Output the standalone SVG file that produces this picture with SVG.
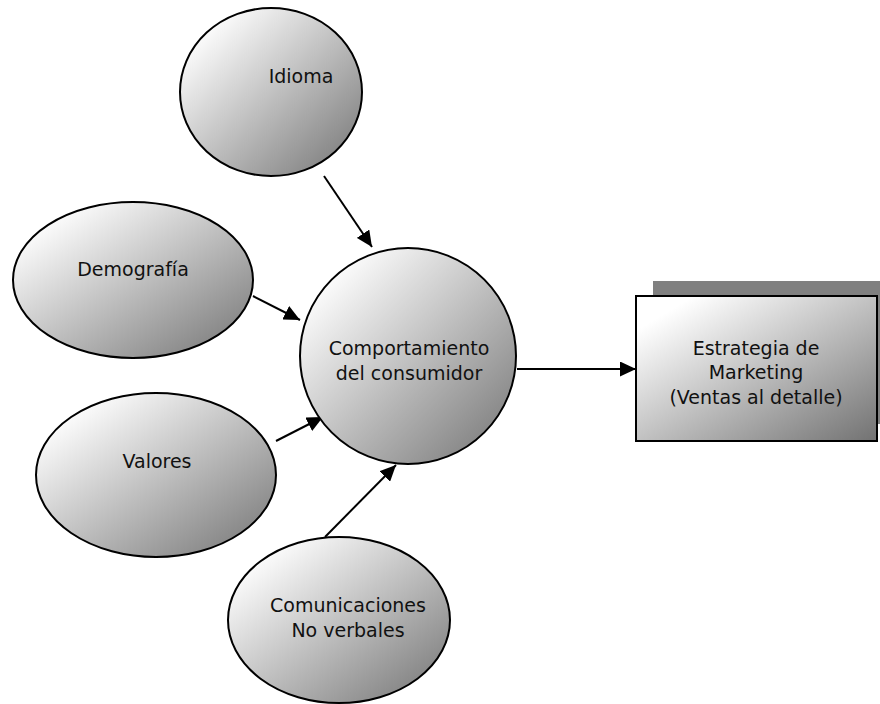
<svg xmlns="http://www.w3.org/2000/svg" width="880" height="704" viewBox="0 0 880 704">
  <defs>
    <linearGradient id="shade" x1="0" y1="0" x2="1" y2="1">
      <stop offset="0.12" stop-color="#ffffff"/>
      <stop offset="1" stop-color="#727272"/>
    </linearGradient>
    <marker id="arrow" markerUnits="userSpaceOnUse" markerWidth="17" markerHeight="15" refX="16" refY="7.5" orient="auto">
      <path d="M0,0 L16,7.5 L0,15 z" fill="#000"/>
    </marker>
    <style>
      .node { fill: url(#shade); stroke: #000; stroke-width: 2; }
      .shadow { fill: #808080; }
      .label { font-family: "DejaVu Sans", Verdana, sans-serif; font-size: 19px; fill: #111111; text-anchor: middle; }
      .link { stroke: #000; stroke-width: 2; fill: none; marker-end: url(#arrow); }
    </style>
  </defs>
  <rect width="880" height="704" fill="#ffffff"/>

  <g id="connectors">
    <line class="link" x1="324" y1="176" x2="372" y2="247"/>
    <line class="link" x1="253" y1="296" x2="300" y2="320"/>
    <line class="link" x1="276" y1="441" x2="323" y2="417"/>
    <line class="link" x1="325" y1="537" x2="396" y2="465"/>
    <line class="link" x1="517" y1="369" x2="636" y2="369"/>
  </g>

  <g id="idioma">
    <ellipse class="node" cx="271" cy="92" rx="91" ry="84"/>
    <text class="label" x="301" y="83">Idioma</text>
  </g>

  <g id="demografia">
    <ellipse class="node" cx="133" cy="280" rx="120" ry="78"/>
    <text class="label" x="133" y="276">Demografía</text>
  </g>

  <g id="valores">
    <ellipse class="node" cx="156" cy="475" rx="120" ry="82"/>
    <text class="label" x="157" y="468">Valores</text>
  </g>

  <g id="comunicaciones">
    <ellipse class="node" cx="339" cy="620" rx="111" ry="83"/>
    <text class="label" x="348" y="612">Comunicaciones</text>
    <text class="label" x="348" y="637">No verbales</text>
  </g>

  <g id="comportamiento">
    <circle class="node" cx="408" cy="356" r="108"/>
    <text class="label" x="409" y="355">Comportamiento</text>
    <text class="label" x="409" y="380">del consumidor</text>
  </g>

  <g id="estrategia">
    <rect class="shadow" x="653" y="281" width="240" height="143"/>
    <rect class="node" x="636" y="296" width="241" height="145"/>
    <text class="label" x="756" y="355">Estrategia de</text>
    <text class="label" x="756" y="379">Marketing</text>
    <text class="label" x="756" y="404">(Ventas al detalle)</text>
  </g>
</svg>
